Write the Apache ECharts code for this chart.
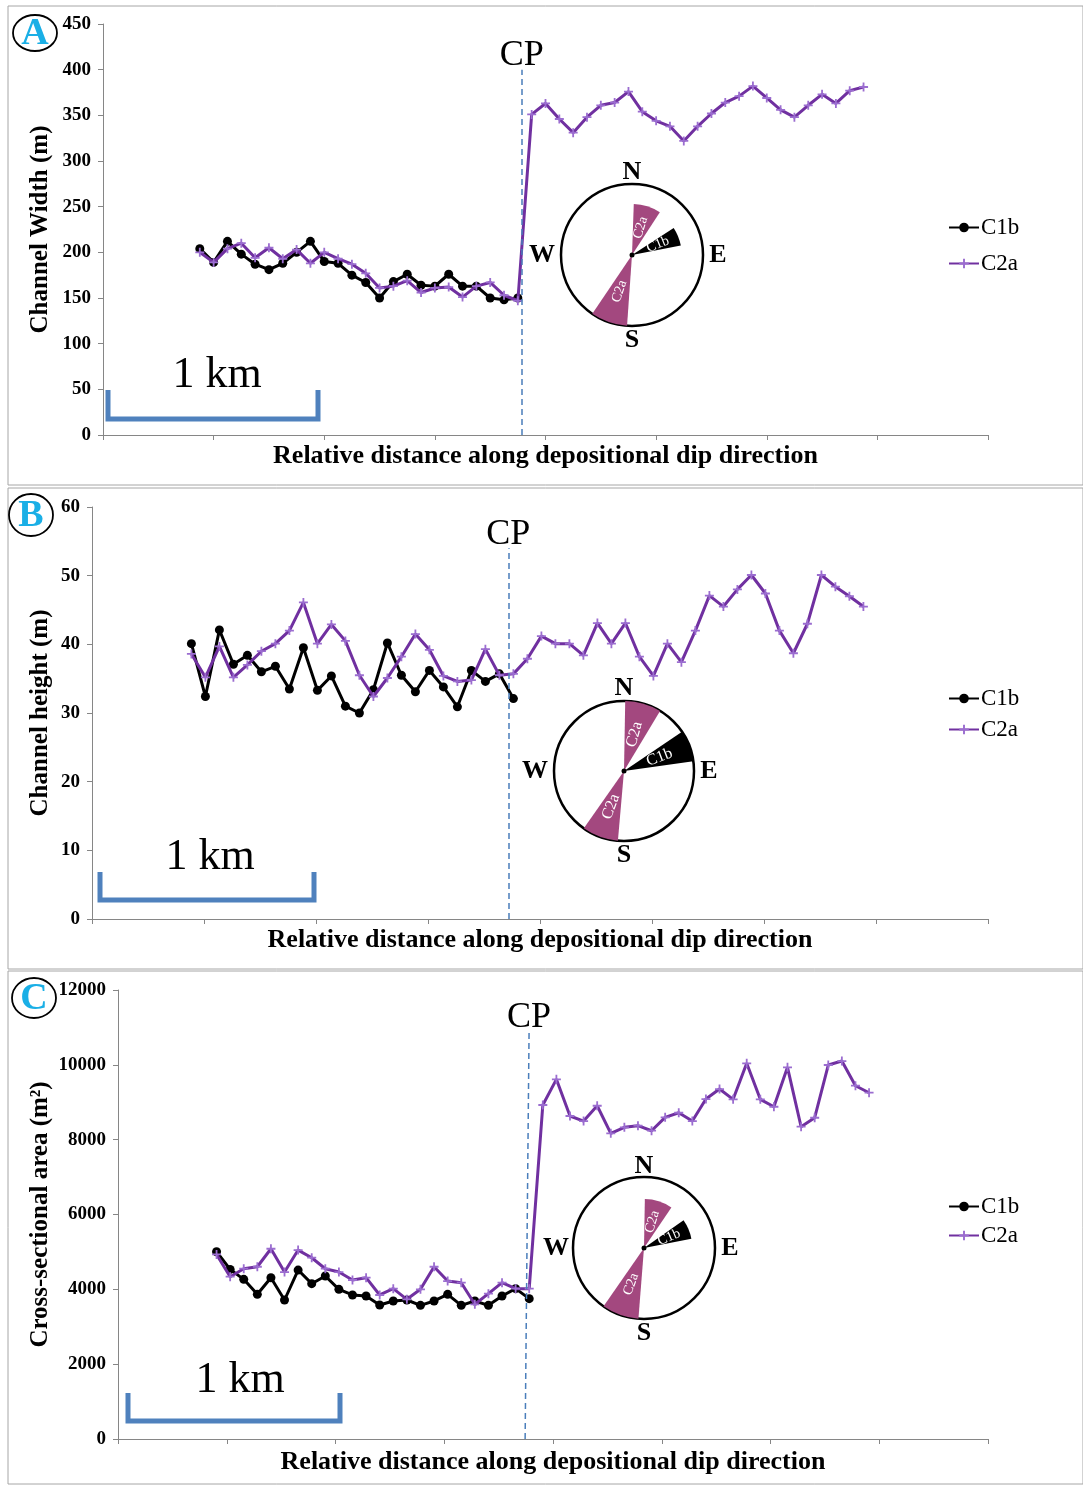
<!DOCTYPE html>
<html>
<head>
<meta charset="utf-8">
<style>
  html, body { margin: 0; background: #fff; }
  #container { width: 1083px; height: 1486px; }
</style>
</head>
<body>
<div id="container"></div>
<script src="https://cdn.jsdelivr.net/npm/echarts@6/dist/echarts.min.js"></script>
<script>
// ---- data ----
// x = station index along dip direction (8 stations per axis tick)
const startA = 7, startB = 7.1, startC = 7.25;

// A: channel width (m)
const widthC1b = [204, 189, 212, 198, 187, 181, 188, 200, 212, 190, 188, 175, 167, 150, 168, 176, 164, 163, 176, 163, 163, 150, 148, 150];
const widthC2a = [200, 189, 204, 210, 194, 205, 193, 203, 188, 200, 193, 187, 177, 161, 163, 169, 156, 161, 162, 151, 163, 167, 153, 147,
  351, 363, 346, 331, 348, 361, 364, 376, 354, 344, 338, 322, 338, 352, 364, 371, 382, 369, 356, 348, 361, 373, 363, 377, 381];

// B: channel height (m)
const heightC1b = [40.1, 32.4, 42.1, 37.1, 38.4, 36, 36.8, 33.5, 39.5, 33.3, 35.4, 31, 30, 33.4, 40.2, 35.5, 33.1, 36.2, 33.8, 30.9, 36.2, 34.6, 35.7, 32.1];
const heightC2a = [38.6, 35.2, 39.7, 35.2, 37, 39, 40.1, 42, 46.1, 40.1, 42.9, 40.5, 35.5, 32.4, 35.1, 38.2, 41.5, 39.2, 35.4, 34.6, 34.8, 39.3, 35.5, 35.7,
  37.9, 41.2, 40.1, 40.1, 38.4, 43.1, 40.1, 43.1, 38.2, 35.4, 40.1, 37.4, 42, 47.1, 45.5, 48, 50.1, 47.4, 42, 38.7, 43, 50.1, 48.4, 47, 45.5];

// C: cross-sectional area (m2)
const areaC1b = [5005, 4533, 4267, 3867, 4311, 3715, 4515, 4151, 4355, 4000, 3849, 3822, 3582, 3689, 3715, 3573, 3689, 3867, 3573, 3689, 3573, 3822, 4018, 3751];
const areaC2a = [4933, 4338, 4551, 4604, 5084, 4462, 5049, 4845, 4551, 4462, 4249, 4311, 3849, 4018, 3733, 4000, 4604, 4222, 4178, 3600, 3884, 4178, 4018, 4018,
  8926, 9612, 8632, 8498, 8907, 8169, 8330, 8373, 8239, 8597, 8720, 8498, 9086, 9353, 9078, 10040, 9078, 8880, 9933, 8346, 8586, 9995, 10101, 9442, 9255];

// CP position (station) per panel, [bottom, top]
const cpA = [30.29, 30.29], cpB = [29.74, 29.74], cpC = [29.95, 30.24];

// paleoflow rose sectors: [name, fromAzimuth, toAzimuth, relative length]
const roseA = [['C2a', 2, 33, 0.72], ['C1b', 57, 79, 0.70], ['C2a', 184, 214, 1]];
const roseB = [['C2a', 1, 31, 1], ['C1b', 56, 82, 1], ['C2a', 185, 215, 1]];
const roseC = [['C2a', 1, 34, 0.69], ['C1b', 55, 79, 0.68], ['C2a', 184.5, 214.7, 1]];

// ---- styles ----
const serif = "'Liberation Serif', 'Times New Roman', serif";
const purple = '#7030A0';
const sectorColor = { C2a: '#A3487F', C1b: '#000' };
const cpBlue = '#4A7EBB';
const plus = 'path://M4,0H6V4H10V6H6V10H4V6H0V4H4Z';

const dom = document.getElementById('container');
const myChart = echarts.init(dom, null, { renderer: 'canvas' });

function gridAxes(i, max, interval, name, yGap, xGap) {
  const x = {
    type: 'value', gridIndex: i, min: 0, max: 64, interval: 8,
    axisLine: { lineStyle: { color: '#868686', width: 1 } },
    axisTick: { show: true, length: 5, lineStyle: { color: '#868686' } },
    axisLabel: { show: false }, splitLine: { show: false },
    name: 'Relative distance along depositional dip direction',
    nameLocation: 'middle', nameGap: xGap,
    nameTextStyle: { fontFamily: serif, fontWeight: 'bold', fontSize: 26, color: '#000' }
  };
  const y = {
    type: 'value', gridIndex: i, min: 0, max: max, interval: interval,
    axisLine: { show: true, lineStyle: { color: '#868686', width: 1 } },
    axisTick: { show: true, length: 5, lineStyle: { color: '#868686' } },
    axisLabel: { fontFamily: serif, fontWeight: 'bold', fontSize: 19, color: '#000', margin: 12,
      formatter: v => String(v) },
    splitLine: { show: false },
    name: name, nameLocation: 'middle', nameGap: yGap, nameMoveOverlap: false,
    nameTextStyle: { fontFamily: serif, fontWeight: 'bold', fontSize: 25, color: '#000' }
  };
  return [x, y];
}

function lines(i, c1b, c2a, start, cp, cpTop) {
  return [
    {
      type: 'line', name: 'C1b', xAxisIndex: i, yAxisIndex: i,
      data: c1b.map((v, k) => [start + k, v]),
      symbol: 'circle', symbolSize: 9, showAllSymbol: true,
      lineStyle: { color: '#000', width: 3 }, itemStyle: { color: '#000' },
      z: 3,
      markLine: {
        silent: true, symbol: ['none', 'none'], animation: false,
        lineStyle: { type: [6, 4], color: cpBlue, width: 1.5 },
        label: { show: true, position: 'end', formatter: 'CP', fontFamily: serif, fontSize: 36, color: '#000', distance: -4 },
        data: [[{ coord: [cp[0], 0] }, { coord: [cp[1], cpTop] }]]
      }
    },
    {
      type: 'line', name: 'C2a', xAxisIndex: i, yAxisIndex: i,
      data: c2a.map((v, k) => [start + k, v]),
      symbol: plus, symbolSize: 9, showAllSymbol: true,
      lineStyle: { color: purple, width: 3 }, itemStyle: { color: '#9B6DD0' },
      z: 4
    }
  ];
}

function rose(center, r, sectors, fs) {
  const out = [{
    type: 'pie', silent: true, center: center, radius: [0, r], startAngle: 90, z: 5,
    label: { show: false }, labelLine: { show: false }, animation: false,
    data: [{ value: 1, name: '', itemStyle: { color: '#fff', borderColor: '#000', borderWidth: 2.5 } }]
  }];
  sectors.forEach(s => {
    const span = s[2] - s[1];
    out.push({
      type: 'pie', silent: true, center: center, radius: [0, r * s[3]],
      startAngle: 90 - s[1], clockwise: true, z: 6, animation: false,
      labelLine: { show: false },
      label: { show: true, position: 'inside', rotate: 'radial', formatter: '{b}', color: '#fff', fontFamily: serif, fontSize: fs },
      data: [
        { value: span, name: s[0], itemStyle: { color: sectorColor[s[0]], borderWidth: 0 } },
        { value: 360 - span, name: ' ', itemStyle: { color: 'rgba(0,0,0,0)', borderWidth: 0 }, label: { show: false } }
      ]
    });
  });
  return out;
}

function legendAt(top, gap) {
  return {
    data: ['C1b', 'C2a'], orient: 'vertical', left: 943, top: top, itemGap: gap,
    itemWidth: 30, itemHeight: 12, selectedMode: false,
    textStyle: { fontFamily: serif, fontSize: 23, color: '#000', padding: [0, 0, 0, -3] }
  };
}

function txt(x, y, text, font, fill) {
  return { type: 'text', x: x, y: y, z: 100, silent: true,
    style: { text: text, font: font, fill: fill || '#000', align: 'center', verticalAlign: 'middle', textAlign: 'center', textVerticalAlign: 'middle' } };
}

function compassMarks(cx, cy, dn, ds, dw, de) {
  const f = 'bold 26px ' + serif;
  return [
    txt(cx, cy - dn, 'N', f), txt(cx, cy + ds, 'S', f),
    txt(cx - dw, cy, 'W', f), txt(cx + de, cy, 'E', f),
    { type: 'circle', z: 100, silent: true, shape: { cx: cx, cy: cy, r: 2.5 }, style: { fill: '#000' } }
  ];
}

function scaleBar(x1, x2, top, bottom, tx, ty) {
  return [
    { type: 'polyline', z: 100, silent: true,
      shape: { points: [[x1, top], [x1, bottom], [x2, bottom], [x2, top]] },
      style: { stroke: '#4F81BD', lineWidth: 5, fill: 'none' } },
    txt(tx, ty, '1 km', '44px ' + serif)
  ];
}

function panelLabel(cx, cy, ry, letter) {
  return [
    { type: 'ellipse', z: 100, silent: true, shape: { cx: cx, cy: cy, rx: 22, ry: ry },
      style: { fill: 'none', stroke: '#000', lineWidth: 1.8 } },
    txt(cx, cy + 1, letter, 'bold 38px ' + serif, '#1AAFE6')
  ];
}

const axA = gridAxes(0, 450, 50, 'Channel Width (m)', 50, 8);
const axB = gridAxes(1, 60, 10, 'Channel height (m)', 39, 8);
const axC = gridAxes(2, 12000, 2000, 'Cross-sectional area (m\u00B2)', 65, 10);

const frame = (y, h) => ({ type: 'rect', z: 0, silent: true, shape: { x: 8, y: y, width: 1075, height: h },
  style: { fill: 'none', stroke: '#A6A6A6', lineWidth: 1 } });

const option = {
  animation: false,
  backgroundColor: '#fff',
  grid: [
    { left: 103, right: 95, top: 24, height: 411 },
    { left: 92, right: 95, top: 507, height: 412 },
    { left: 118, right: 95, top: 990, height: 449 }
  ],
  xAxis: [axA[0], axB[0], axC[0]],
  yAxis: [axA[1], axB[1], axC[1]],
  legend: [legendAt(211, 13), legendAt(682, 8), legendAt(1190, 6)],
  series: [].concat(
    lines(0, widthC1b, widthC2a, startA, cpA, 400),
    lines(1, heightC1b, heightC2a, startB, cpB, 54),
    lines(2, areaC1b, areaC2a, startC, cpC, 10900),
    rose([632, 255], 71, roseA, 14),
    rose([624, 771], 70, roseB, 16),
    rose([644, 1248], 71, roseC, 14)
  ),
  graphic: { elements: [].concat(
    [frame(6, 479), frame(488, 481), frame(971, 513)],
    panelLabel(35, 33, 18, 'A'), panelLabel(31, 515, 21, 'B'), panelLabel(34, 998, 20, 'C'),
    scaleBar(108, 318, 390, 419, 217, 375),
    scaleBar(100, 314, 872, 900, 210, 857),
    scaleBar(128, 340, 1393, 1421, 240, 1380),
    compassMarks(632, 255, 83, 85, 90, 86),
    compassMarks(624, 771, 83, 84, 89, 85),
    compassMarks(644, 1248, 82, 85, 88, 86)
  ) }
};

myChart.setOption(option);
window.addEventListener('resize', myChart.resize);
</script>
</body>
</html>
